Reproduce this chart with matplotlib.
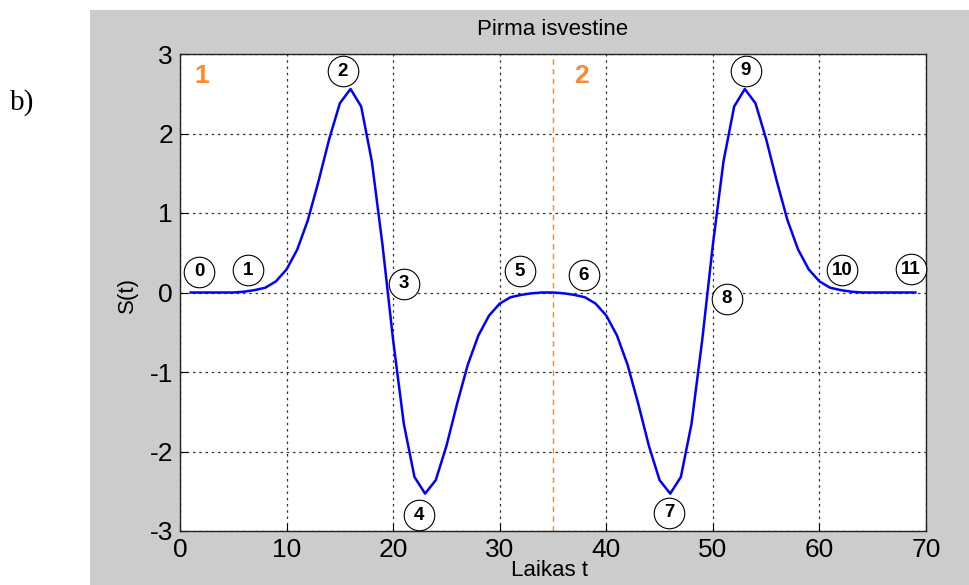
import matplotlib.pyplot as plt
from matplotlib.patches import Rectangle

plt.rcParams['font.family'] = ['Liberation Sans', 'DejaVu Sans']
plt.rcParams['axes.unicode_minus'] = False

# laikas ir pirma isvestine (nuskaityta nuo grafiko)
t = list(range(1, 70))
s = [0.00, 0.00, 0.00, 0.00, 0.00, 0.01, 0.03, 0.06, 0.14, 0.29,
     0.54, 0.91, 1.40, 1.93, 2.38, 2.56, 2.34, 1.65, 0.60, -0.60,
     -1.65, -2.32, -2.53, -2.36, -1.93, -1.40, -0.91, -0.54, -0.29, -0.14,
     -0.06, -0.03, -0.01, 0.00, 0.00, -0.01, -0.03, -0.06, -0.14, -0.29,
     -0.54, -0.91, -1.40, -1.93, -2.36, -2.53, -2.32, -1.65, -0.60, 0.60,
     1.65, 2.34, 2.56, 2.38, 1.93, 1.40, 0.91, 0.54, 0.29, 0.14,
     0.06, 0.03, 0.01, 0.00, 0.00, 0.00, 0.00, 0.00, 0.00]

# sunumeruoti taskai
pt_labels = ['0', '1', '2', '3', '4', '5', '6', '7', '8', '9', '10', '11']
pt_t = [1.8, 6.4, 15.3, 21.0, 22.4, 31.9, 37.9, 45.9, 51.3, 53.1, 62.1, 68.6]
pt_s = [0.26, 0.28, 2.78, 0.11, -2.80, 0.27, 0.22, -2.77, -0.08, 2.79, 0.28, 0.29]

# intervalai
seg_labels = ['1', '2']
seg_t = [2.0, 37.7]
seg_s = [2.72, 2.72]
split_t = 35

fig = plt.figure(figsize=(9.7, 5.85), dpi=100, facecolor='white')
fig.patches.append(Rectangle((90 / 970, 0), 1 - 90 / 970, 575 / 585,
                             transform=fig.transFigure, facecolor='#cccccc',
                             edgecolor='none', zorder=-10))
fig.text(10 / 970, 1 - 103 / 585, 'b)', family='Liberation Serif',
         fontsize=21, ha='left', va='center')

ax = fig.add_axes([180 / 970, 54 / 585, 746 / 970, 477 / 585])
ax.set_facecolor('white')

ax.plot(t, s, color='#0000ff', lw=1.8, zorder=3)
ax.axvline(split_t, color='#ff8833', lw=1, ls=(0, (4, 3)), zorder=2)

ax.plot(pt_t, pt_s, 'o', ms=22, mfc='white', mec='black', mew=0.8,
        zorder=4, clip_on=False)
for lab, x, y in zip(pt_labels, pt_t, pt_s):
    ax.text(x, y, lab, fontsize=13.5, fontweight='bold', ha='center',
            va='center', zorder=5)

for lab, x, y in zip(seg_labels, seg_t, seg_s):
    ax.text(x, y, lab, fontsize=19, fontweight='bold', color='#ff8833',
            ha='center', va='center', zorder=5)

ax.set_xlim(0, 70)
ax.set_ylim(-3, 3)
ax.set_xticks(range(0, 71, 10))
ax.set_yticks(range(-3, 4))
ax.grid(True, color='#333333', ls=(0, (2, 3)), lw=0.9)
ax.tick_params(direction='in', length=5, labelsize=19, pad=5)
for sp in ax.spines.values():
    sp.set_color('#222222')
    sp.set_linewidth(1)

ax.set_title('Pirma isvestine', fontsize=16, pad=13.5)
ax.set_xlabel('Laikas t', fontsize=16)
ax.xaxis.set_label_coords(0.495, -0.061)
ax.set_ylabel('S(t)', fontsize=16)
ax.yaxis.label.set_va('center')
ax.yaxis.set_label_coords(-0.071, 0.495)

fig.savefig('out.png', dpi=100)
